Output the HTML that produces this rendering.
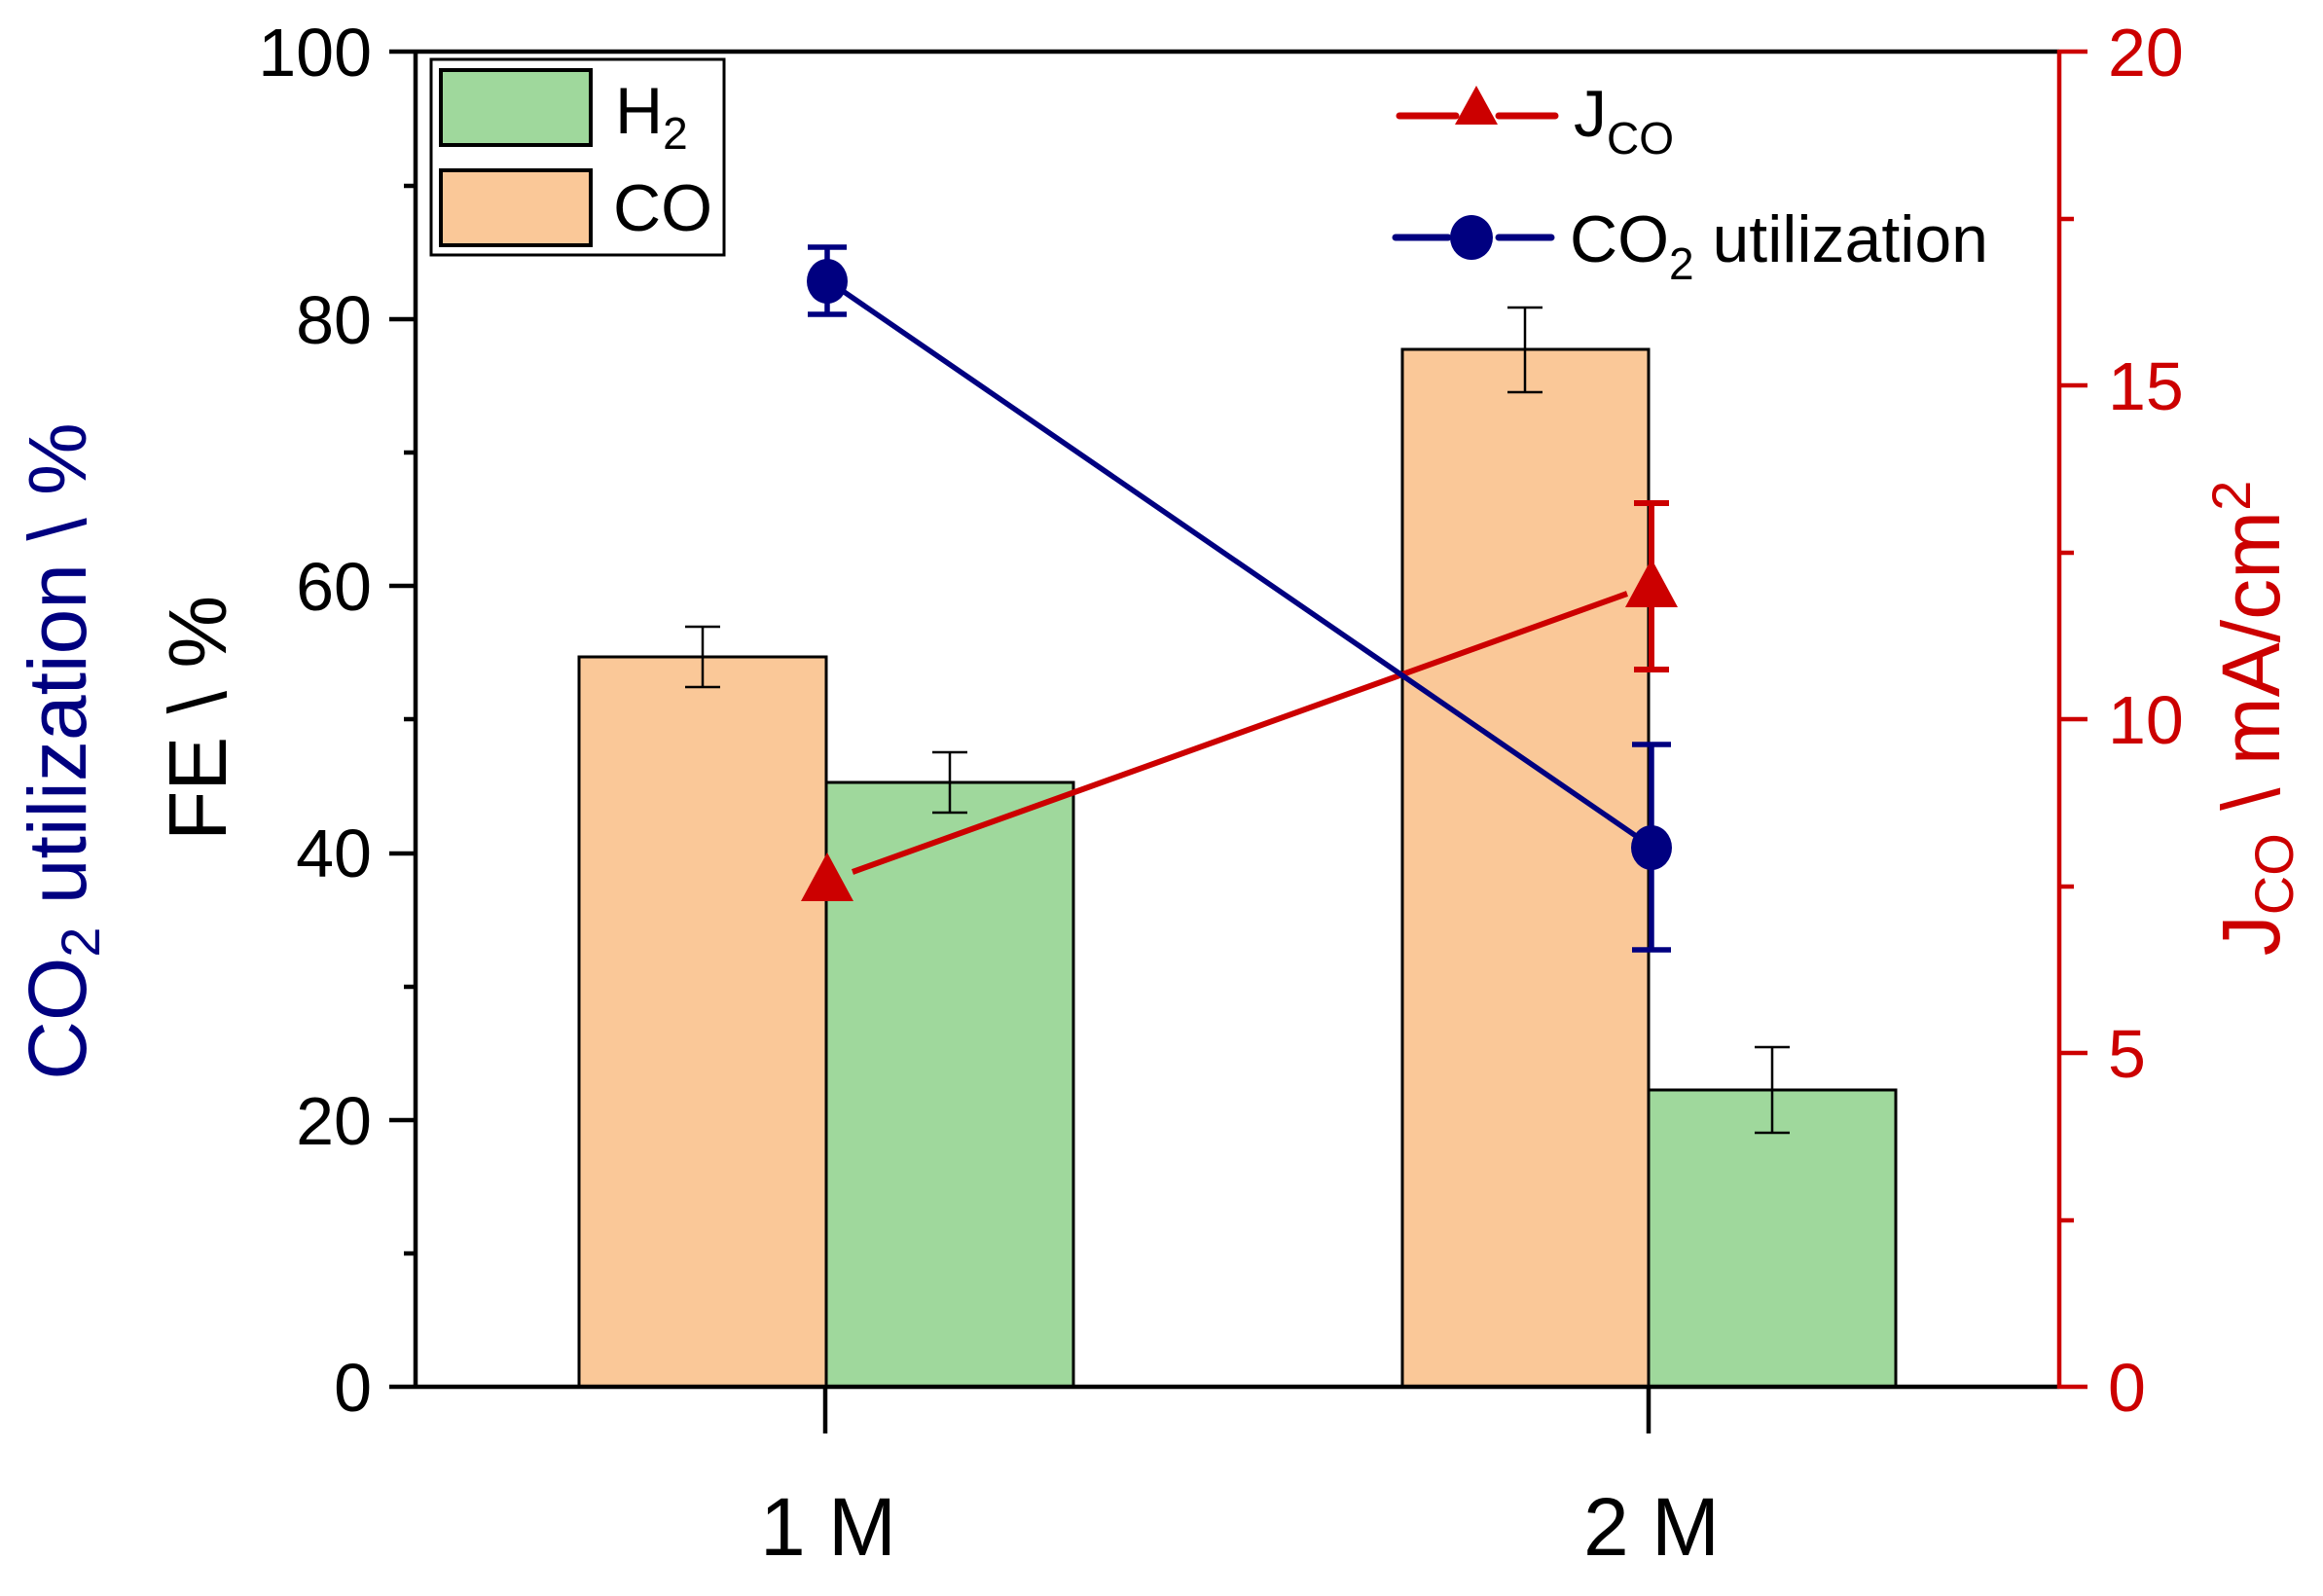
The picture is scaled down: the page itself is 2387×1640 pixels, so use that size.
<!DOCTYPE html>
<html><head><meta charset="utf-8"><style>html,body{margin:0;padding:0;background:#fff}svg{display:block}</style></head>
<body>
<svg width="2387" height="1640" viewBox="0 0 2387 1640" xmlns="http://www.w3.org/2000/svg" font-family="Liberation Sans, Arial, sans-serif">
<!-- bars -->
<g stroke="#000" stroke-width="3">
<rect x="595" y="675" width="254" height="750" fill="#FAC898"/>
<rect x="849" y="804" width="254" height="621" fill="#9FD89C"/>
<rect x="1441" y="359" width="253" height="1066" fill="#FAC898"/>
<rect x="1694" y="1120" width="254" height="305" fill="#9FD89C"/>
</g>
<!-- bar error bars -->
<g stroke="#000" stroke-width="2.5" fill="none">
<path d="M722 644V706M704 644H740M704 706H740"/>
<path d="M976 773V835M958 773H994M958 835H994"/>
<path d="M1567 316V403M1549 316H1585M1549 403H1585"/>
<path d="M1821 1076V1164M1803 1076H1839M1803 1164H1839"/>
</g>
<!-- axes -->
<g stroke="#000" stroke-width="4.5" fill="none">
<path d="M400 53H2116"/>
<path d="M427 51V1427"/>
<path d="M400 1425H2116"/>
<path d="M400 1151H427M400 877H427M400 602H427M400 328H427"/>
<path d="M415 1288H427M415 1014H427M415 739H427M415 465H427M415 191H427"/>
<path d="M848 1425V1473M1694 1425V1473"/>
</g>
<g stroke="#CC0000" stroke-width="4.5" fill="none">
<path d="M2116 51V1427"/>
<path d="M2116 53H2145M2116 396H2145M2116 739H2145M2116 1082H2145M2116 1425H2145"/>
<path d="M2116 225H2131M2116 568H2131M2116 911H2131M2116 1254H2131"/>
</g>
<!-- tick labels -->
<g font-size="70" text-anchor="end" fill="#000">
<text x="382" y="1450">0</text><text x="382" y="1176">20</text><text x="382" y="901">40</text>
<text x="382" y="627">60</text><text x="382" y="353">80</text><text x="382" y="78">100</text>
</g>
<g font-size="70" fill="#CC0000">
<text x="2166" y="1450">0</text><text x="2166" y="1107">5</text><text x="2166" y="764">10</text>
<text x="2166" y="421">15</text><text x="2166" y="78">20</text>
</g>
<g font-size="84" text-anchor="middle" fill="#000">
<text x="851" y="1598">1 M</text><text x="1697" y="1598">2 M</text>
</g>
<!-- axis titles -->
<text transform="translate(232,738) rotate(-90)" font-size="84" text-anchor="middle" fill="#000">FE \ %</text>
<text transform="translate(88,772) rotate(-90)" font-size="84" text-anchor="middle" fill="#000080">CO<tspan font-size="56" dy="14">2</tspan><tspan dy="-14"> utilization \ %</tspan></text>
<text transform="translate(2342,738) rotate(-90)" font-size="84" text-anchor="middle" fill="#CC0000">J<tspan font-size="56" dy="14">CO</tspan><tspan dy="-14"> \ mA/cm</tspan><tspan font-size="56" dy="-30">2</tspan></text>
<!-- red series -->
<g stroke="#CC0000" stroke-width="6" fill="none">
<path d="M876 896L1672 610"/>
<path d="M1697 517V688M1679 517H1715M1679 688H1715"/>
</g>
<g fill="#CC0000">
<polygon points="850,876 877,926 823,926"/>
<polygon points="1697,574 1724,624 1670,624"/>
</g>
<!-- blue series -->
<g stroke="#000080" stroke-width="5.5" fill="none">
<path d="M850 288L1697 870"/>
<path d="M850 254V323M830 254H870M830 323H870"/>
<path d="M1697 765V976M1677 765H1717M1677 976H1717"/>
</g>
<g fill="#000080">
<ellipse cx="850" cy="289" rx="21" ry="23"/>
<ellipse cx="1697" cy="871" rx="21" ry="23"/>
</g>
<!-- legend box -->
<rect x="443" y="61" width="301" height="201" fill="none" stroke="#000" stroke-width="3"/>
<rect x="453" y="72" width="154" height="77" fill="#9FD89C" stroke="#000" stroke-width="4"/>
<rect x="453" y="175" width="154" height="77" fill="#FAC898" stroke="#000" stroke-width="4"/>
<text x="632" y="137" font-size="68" fill="#000">H<tspan font-size="46" dy="16">2</tspan></text>
<text x="630" y="237" font-size="68" fill="#000">CO</text>
<!-- right legend -->
<path d="M1438 119H1496M1540 119H1598" stroke="#CC0000" stroke-width="7" stroke-linecap="round"/>
<polygon points="1517,88 1539,128 1495,128" fill="#CC0000"/>
<text x="1617" y="140" font-size="68" fill="#000">J<tspan font-size="46" dy="18">CO</tspan></text>
<path d="M1434 244H1488M1540 244H1594" stroke="#000080" stroke-width="7" stroke-linecap="round"/>
<ellipse cx="1512" cy="244" rx="22" ry="23" fill="#000080"/>
<text x="1613" y="269" font-size="68" fill="#000">CO<tspan font-size="46" dy="18">2</tspan><tspan dy="-18"> utilization</tspan></text>
</svg>
</body></html>
